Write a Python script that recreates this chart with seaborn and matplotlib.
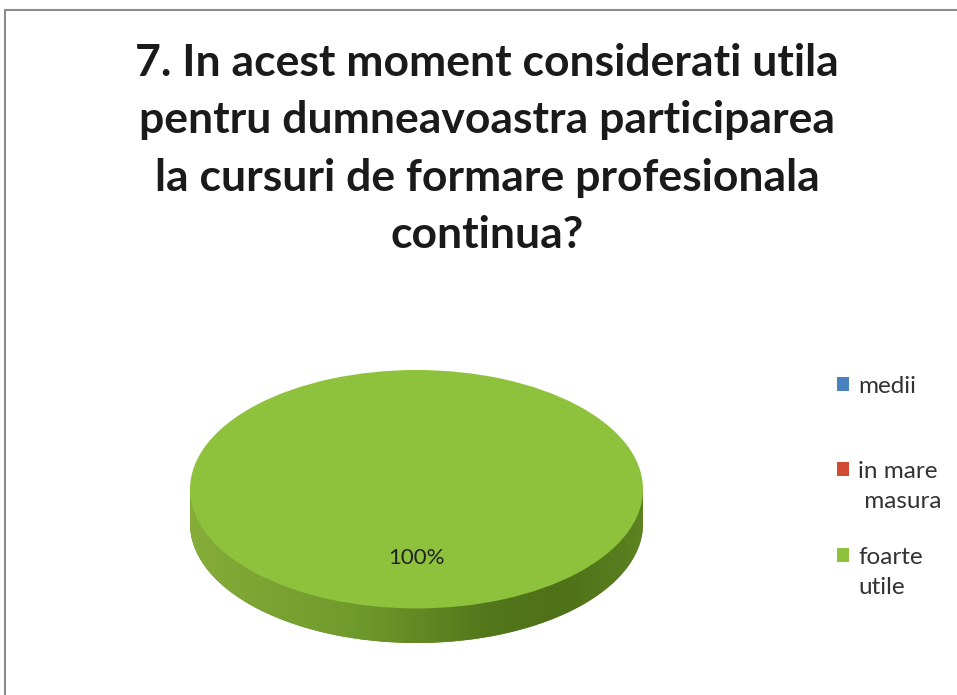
import numpy as np
import matplotlib
matplotlib.use("Agg")
import matplotlib.pyplot as plt
import seaborn as sns
from matplotlib.patches import Patch, Rectangle, Polygon

# data
categories = ["medii", "in mare\nmasura", "foarte\nutile"]
values = [0, 0, 100]
title = ("7. In acest moment considerati utila\n"
         "pentru dumneavoastra participarea\n"
         "la cursuri de formare profesionala\n"
         "continua?")

colors = ["#4a82c0", "#cf4b32", "#8fc23c"]
side_dark = "#5f8424"

sns.set_theme(style="white")
plt.rcParams["font.family"] = ["Lato", "DejaVu Sans"]

fig = plt.figure(figsize=(9.57, 6.95), dpi=100)
fig.patch.set_facecolor("white")

# outer frame
fig.patches.append(Rectangle((5 / 957, -0.05), 1.2, 1 - 10 / 695 + 0.05,
                             transform=fig.transFigure, fill=False,
                             edgecolor="#8c8c8c", linewidth=1.5))

fig.text(487 / 957, 1 - 43 / 695, title, ha="center", va="top",
         fontsize=32, fontweight="bold", color="#1a1a1a", linespacing=1.53)

# pie axes: x [-1, 1], y [-1 - depth, 1]
depth = 0.29
ax = fig.add_axes([190 / 957, (695 - 643) / 695, 453 / 957, 273 / 695])

# side of the disc
ax.pie(values, colors=[side_dark] * 3, startangle=90, center=(0, -depth),
       wedgeprops=dict(linewidth=0))
t = np.linspace(np.pi, 2 * np.pi, 200)
side = np.column_stack([np.cos(t), np.sin(t) - depth])
side = np.vstack([side, [[1, 0], [-1, 0]]])
clip = Polygon(side, closed=True, facecolor="none", edgecolor="none")
ax.add_patch(clip)
shade = np.interp(np.linspace(0, 1, 300), np.linspace(0, 1, 7),
                  [0.0, 0.25, 0.45, 0.7, 0.95, 1.0, 0.8])
cmap = matplotlib.colors.LinearSegmentedColormap.from_list(
    "side", ["#86ad3a", "#6f9a2c", "#4f7219"])
im = ax.imshow(shade[None, :], extent=[-1, 1, -1 - depth, 0], cmap=cmap,
               vmin=0, vmax=1, aspect="auto", zorder=2)
im.set_clip_path(clip)


def fmt(p):
    return f"{p:.0f}%" if p > 0 else ""


wedges, texts, autotexts = ax.pie(values, colors=colors, startangle=90,
                                  autopct=fmt, pctdistance=0.58,
                                  wedgeprops=dict(linewidth=0, zorder=3),
                                  textprops=dict(fontsize=16, color="#222222"))
for a in autotexts:
    a.set_zorder(4)

ax.set_aspect("auto")
ax.set_xlim(-1, 1)
ax.set_ylim(-1 - depth, 1)
ax.axis("off")

# legend, one row per text line; blank rows set the gaps between entries
blank = Patch(visible=False)
handles = [wedges[0], blank, wedges[1], blank, blank, wedges[2], blank]
labels = ["medii", "", "in mare", " masura", "", "foarte", "utile"]
leg = fig.legend(handles, labels, loc="upper left",
                 bbox_to_anchor=(837 / 957, 1 - 376 / 695), frameon=False,
                 handlelength=0.5, handleheight=0.5, handletextpad=0.37,
                 labelspacing=0.37, borderpad=0, borderaxespad=0,
                 prop=dict(family=["Lato", "DejaVu Sans"], size=17.5),
                 labelcolor="#333333")
gap_sizes = {1: 36.5, 4: 3}
for i, txt in enumerate(leg.get_texts()):
    if i in gap_sizes:
        txt.set_fontsize(gap_sizes[i])

fig.savefig("out.png", dpi=100)
